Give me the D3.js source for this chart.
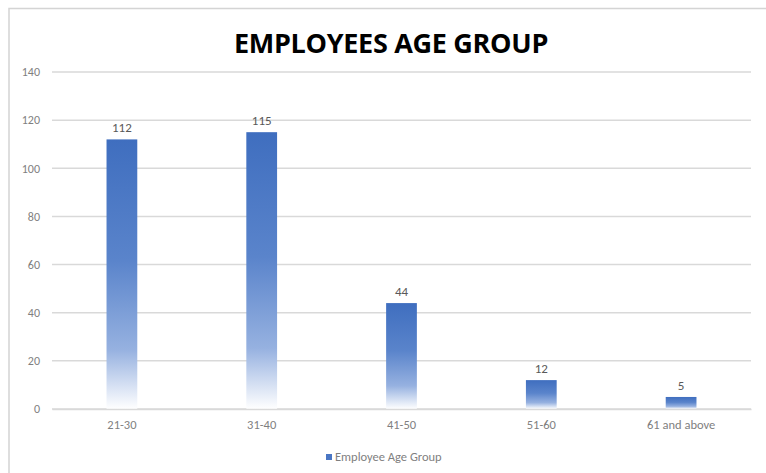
<!DOCTYPE html>
<html>
<head>
<meta charset="utf-8">
<script src="https://cdn.jsdelivr.net/npm/d3@7"></script>
<style>
  body { margin: 0; background: #fff; }
</style>
</head>
<body>
<script>
const categories = ['21-30', '31-40', '41-50', '51-60', '61 and above'];
const values = [112, 115, 44, 12, 5];
const yTicks = [0, 20, 40, 60, 80, 100, 120, 140];
const seriesName = 'Employee Age Group';
const title = 'EMPLOYEES AGE GROUP';

const W = 766, H = 473;
const margin = { top: 72, right: 15, bottom: 64, left: 52 };
const labelFont = 'Calibri, Carlito, "Liberation Sans", sans-serif';

const svg = d3.select('body').append('svg')
    .attr('width', W)
    .attr('height', H);

svg.append('rect')
    .attr('width', W)
    .attr('height', H)
    .attr('fill', 'white');

// faint chart frame (left + top edges visible in the original)
svg.append('path')
    .attr('d', `M9,${H} V8.5 H${W}`)
    .attr('fill', 'none')
    .attr('stroke', '#d4d4d4')
    .attr('stroke-width', 1.5);

const defs = svg.append('defs');
const grad = defs.append('linearGradient')
    .attr('id', 'barGrad')
    .attr('x1', 0).attr('y1', 0)
    .attr('x2', 0).attr('y2', 1);
grad.append('stop').attr('offset', '0%').attr('stop-color', '#3f6ebf');
grad.append('stop').attr('offset', '45%').attr('stop-color', '#5a84cb');
grad.append('stop').attr('offset', '78%').attr('stop-color', '#96b1e0');
grad.append('stop').attr('offset', '100%').attr('stop-color', '#ffffff');

const x = d3.scaleBand()
    .domain(categories)
    .range([margin.left, W - margin.right])
    .paddingInner(0.78)
    .paddingOuter(0.39);

const y = d3.scaleLinear()
    .domain([0, 140])
    .range([H - margin.bottom, margin.top]);

// gridlines
svg.append('g')
    .selectAll('line')
    .data(yTicks)
    .join('line')
    .attr('x1', margin.left)
    .attr('x2', W - margin.right)
    .attr('y1', d => y(d))
    .attr('y2', d => y(d))
    .attr('stroke', '#d9d9d9')
    .attr('stroke-width', 1.5);

// y axis labels
const yAxis = d3.axisLeft(y)
    .tickValues(yTicks)
    .tickSize(0)
    .tickPadding(12);

svg.append('g')
    .attr('transform', `translate(${margin.left},0)`)
    .call(yAxis)
    .call(g => g.select('.domain').remove())
    .selectAll('text')
    .attr('fill', '#7f7f7f')
    .style('font-family', labelFont)
    .style('font-size', '12px');

// bars
svg.append('g')
    .selectAll('rect')
    .data(values)
    .join('rect')
    .attr('x', (d, i) => x(categories[i]))
    .attr('y', d => y(d))
    .attr('width', x.bandwidth())
    .attr('height', d => y(0) - y(d))
    .attr('fill', 'url(#barGrad)');

// value labels
svg.append('g')
    .selectAll('text')
    .data(values)
    .join('text')
    .attr('x', (d, i) => x(categories[i]) + x.bandwidth() / 2)
    .attr('y', d => y(d) - 7)
    .attr('text-anchor', 'middle')
    .attr('fill', '#595959')
    .style('font-family', labelFont)
    .style('font-size', '13px')
    .text(d => d);

// x axis
const xAxis = d3.axisBottom(x).tickSize(0).tickPadding(11);
svg.append('g')
    .attr('transform', `translate(0,${y(0)})`)
    .call(xAxis)
    .call(g => g.select('.domain').attr('stroke', '#d9d9d9').attr('stroke-width', 1.5))
    .selectAll('text')
    .attr('fill', '#7f7f7f')
    .style('font-family', labelFont)
    .style('font-size', '12.5px');

// title
svg.append('text')
    .attr('x', 391)
    .attr('y', 53)
    .attr('text-anchor', 'middle')
    .attr('fill', '#000')
    .style('font-family', '"Open Sans", "DejaVu Sans", sans-serif')
    .style('font-weight', 'bold')
    .style('font-size', '27px')
    .style('letter-spacing', '-0.3px')
    .text(title);

// legend
const legend = svg.append('g')
    .attr('transform', 'translate(326,457)');
legend.append('rect')
    .attr('x', 0).attr('y', -3)
    .attr('width', 6).attr('height', 6)
    .attr('fill', '#4a76c4');
legend.append('text')
    .attr('x', 9)
    .attr('y', 0)
    .attr('dy', '0.35em')
    .attr('fill', '#7f7f7f')
    .style('font-family', labelFont)
    .style('font-size', '12.5px')
    .text(seriesName);
</script>
</body>
</html>
